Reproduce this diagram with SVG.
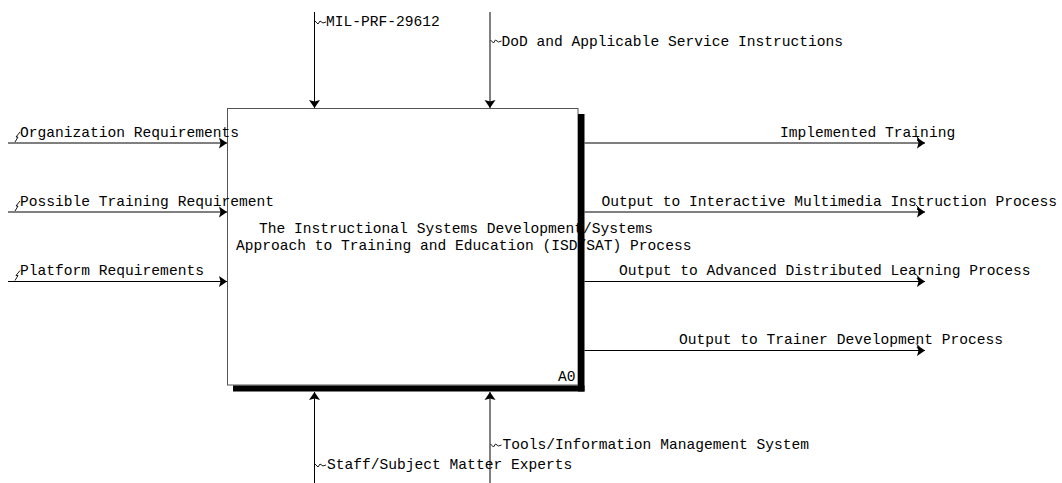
<svg xmlns="http://www.w3.org/2000/svg" width="1062" height="483" viewBox="0 0 1062 483">
<defs>
<style>
text{font-family:"Liberation Mono","Courier New",monospace;font-size:14.6px;fill:#000}
.ln{stroke:#000;stroke-width:1;fill:none}
.sq{stroke:#000;stroke-width:0.9;fill:none}
</style>
<marker id="ah" markerUnits="userSpaceOnUse" markerWidth="10" markerHeight="12" refX="9" refY="6" orient="auto" viewBox="0 0 10 12">
<path d="M1,0.5 L9,6 L1,11.5 L2.5,6 z" fill="#000"/>
</marker>
</defs>
<rect width="1062" height="483" fill="#fff"/>
<g id="node-A0">
<rect x="227.5" y="108.5" width="350.5" height="276.5" fill="#fff" stroke="#555" stroke-width="1"/>
<text x="259" y="233">The Instructional Systems Development/Systems</text>
<text x="236" y="250">Approach to Training and Education (ISD/SAT) Process</text>
<text x="558" y="381">A0</text>
<rect x="578" y="114" width="6.5" height="277.5" fill="#000"/>
<rect x="233" y="385.5" width="351.5" height="6" fill="#000"/>
</g>
<g id="connectors">
<line class="ln" x1="8" y1="143" x2="227" y2="143" marker-end="url(#ah)"/>
<line class="ln" x1="8" y1="212" x2="227" y2="212" marker-end="url(#ah)"/>
<line class="ln" x1="8" y1="281.5" x2="227" y2="281.5" marker-end="url(#ah)"/>
<polyline class="sq" points="15,142 18,137 16,137 20,132"/>
<polyline class="sq" points="15,211 18,206 16,206 20,201"/>
<polyline class="sq" points="15,280.5 18,275.5 16,275.5 20,270.5"/>
<text x="20" y="137">Organization Requirements</text>
<text x="20" y="206">Possible Training Requirement</text>
<text x="20" y="275">Platform Requirements</text>

<line class="ln" x1="584.5" y1="143" x2="925" y2="143" marker-end="url(#ah)"/>
<line class="ln" x1="584.5" y1="212" x2="925" y2="212" marker-end="url(#ah)"/>
<line class="ln" x1="584.5" y1="281.5" x2="925" y2="281.5" marker-end="url(#ah)"/>
<line class="ln" x1="584.5" y1="350.5" x2="925" y2="350.5" marker-end="url(#ah)"/>
<polyline class="sq" points="916,136 919,139 917,140 920,143"/>
<polyline class="sq" points="916,205 919,208 917,209 920,212"/>
<polyline class="sq" points="916,274.5 919,277.5 917,278.5 920,281.5"/>
<polyline class="sq" points="916,343.5 919,346.5 917,347.5 920,350.5"/>
<text x="780" y="137">Implemented Training</text>
<text x="601.5" y="206">Output to Interactive Multimedia Instruction Process</text>
<text x="619" y="275">Output to Advanced Distributed Learning Process</text>
<text x="679" y="344">Output to Trainer Development Process</text>

<line class="ln" x1="314.5" y1="12" x2="314.5" y2="108" marker-end="url(#ah)"/>
<line class="ln" x1="490" y1="12" x2="490" y2="108" marker-end="url(#ah)"/>
<polyline class="sq" points="315,21 318,24 320,21 323,23 326,22"/>
<polyline class="sq" points="490.5,40 493.5,43 495.5,40 498.5,42 501.5,41"/>
<text x="326" y="26">MIL-PRF-29612</text>
<text x="501.5" y="46">DoD and Applicable Service Instructions</text>

<line class="ln" x1="314.5" y1="483" x2="314.5" y2="392" marker-end="url(#ah)"/>
<line class="ln" x1="490" y1="483" x2="490" y2="392" marker-end="url(#ah)"/>
<polyline class="sq" points="315,464 318,467 320,464 323,466 326,465"/>
<polyline class="sq" points="490.5,444 493.5,447 495.5,444 498.5,446 501.5,445"/>
<text x="327" y="469">Staff/Subject Matter Experts</text>
<text x="502.5" y="449">Tools/Information Management System</text>
</g>
</svg>
